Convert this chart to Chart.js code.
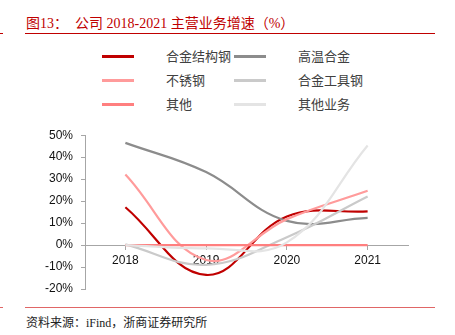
<!DOCTYPE html>
<html>
<head>
<meta charset="utf-8">
<script src="https://cdn.jsdelivr.net/npm/chart.js@4.4.0/dist/chart.umd.min.js"></script>
<style>
  body { margin: 0; width: 455px; height: 335px; background: #fff; position: relative; overflow: hidden; }
  #title { position: absolute; left: 26px; top: 12px; font: 14px "Liberation Serif", "Noto Sans CJK SC", serif; color: #C00000; white-space: pre; }
  .rule { position: absolute; left: 25px; width: 410px; height: 1px; }
  .nub { position: absolute; left: 0; width: 3px; height: 1px; }
  #source { position: absolute; left: 26px; top: 313px; font: 12px "Liberation Serif", "Noto Sans CJK SC", serif; color: #222; white-space: pre; }
  #legend { position: absolute; left: 0; top: 0; }
  .item { position: absolute; height: 20px; font: 13px "Noto Sans CJK SC", sans-serif; color: #404040; line-height: 20px; }
  .item span.line { position: absolute; left: 0; top: 9px; width: 32px; height: 3px; }
  .item span.txt { position: absolute; left: 64px; top: 0; white-space: nowrap; }
  #wrap { position: absolute; left: 0; top: 120px; width: 455px; height: 185px; }
</style>
</head>
<body>
<div id="title">图13：  公司 2018-2021 主营业务增速（%）</div>
<div class="rule" style="top:33px;background:#C00000"></div>
<div class="nub" style="top:33px;background:#C00000"></div>
<div id="legend"></div>
<div id="wrap"><canvas id="growthChart"></canvas></div>
<div class="rule" style="top:307px;background:#E06666"></div>
<div class="nub" style="top:307px;background:#E06666"></div>
<div id="source">资料来源：iFind，浙商证券研究所</div>
<script>
const years = ['2018', '2019', '2020', '2021'];
const seriesNames = ['合金结构钢', '高温合金', '不锈钢', '合金工具钢', '其他', '其他业务'];
const alloyStructSteel = [17.2, -13.6, 13.0, 15.3];
const superalloy = [46.5, 33.2, 11.0, 12.4];
const stainless = [32.1, -6.8, 11.8, 24.7];
const alloyToolSteel = [0.3, -9.0, 3.6, 22.1];
const others = [0, 0, 0, 0];
const otherBusiness = [0, -1.5, 1.2, 45.3];
const yTicks = { min: -20, max: 50, step: 10 };

const colors = ['#C00000', '#8C8C8C', '#FF9B9B', '#CACACA', '#FF7F7F', '#E4E4E4'];
const values = [alloyStructSteel, superalloy, stainless, alloyToolSteel, others, otherBusiness];

const ctx = document.getElementById('growthChart').getContext('2d');
const growthChart = new Chart(ctx, {
    type: 'line',
    data: {
        labels: years,
        datasets: seriesNames.map((name, i) => ({
            label: name,
            data: values[i],
            borderColor: colors[i],
            backgroundColor: colors[i],
            borderWidth: 2.2,
            pointRadius: 0,
            tension: 0.4,
            fill: false,
            order: seriesNames.length - i   // later series drawn on top
        }))
    },
    options: {
        responsive: true,
        maintainAspectRatio: false,
        animation: false,
        events: [],
        layout: { padding: { left: 0, right: 47, top: 9, bottom: 16 } },
        plugins: { legend: { display: false }, tooltip: { enabled: false } },
        scales: {
            x: {
                position: { y: 0 },
                offset: true,
                grid: { drawOnChartArea: false, drawTicks: true, tickLength: 4, tickColor: '#A6A6A6' },
                border: { color: '#A6A6A6', width: 1 },
                ticks: { color: '#111', padding: 4, font: { family: 'Liberation Sans, Arial', size: 12 } }
            },
            y: {
                min: yTicks.min,
                max: yTicks.max,
                afterFit: scale => { scale.width = 85; },
                grid: { drawOnChartArea: false, drawTicks: true, tickLength: 4, tickColor: '#A6A6A6' },
                border: { color: '#A6A6A6', width: 1 },
                ticks: {
                    stepSize: yTicks.step,
                    padding: 8,
                    color: '#111',
                    font: { family: 'Liberation Sans, Arial', size: 12 },
                    callback: v => v + '%'
                }
            }
        }
    }
});

// legend: two columns, filled row by row like the original
const legend = document.getElementById('legend');
growthChart.data.datasets.forEach((ds, i) => {
    const col = i % 2, row = Math.floor(i / 2);
    const el = document.createElement('div');
    el.className = 'item';
    el.style.left = (102 + col * 132) + 'px';
    el.style.top = (46 + row * 24) + 'px';
    el.innerHTML = '<span class="line" style="background:' + ds.borderColor + '"></span><span class="txt">' + ds.label + '</span>';
    legend.appendChild(el);
});
</script>
</body>
</html>
